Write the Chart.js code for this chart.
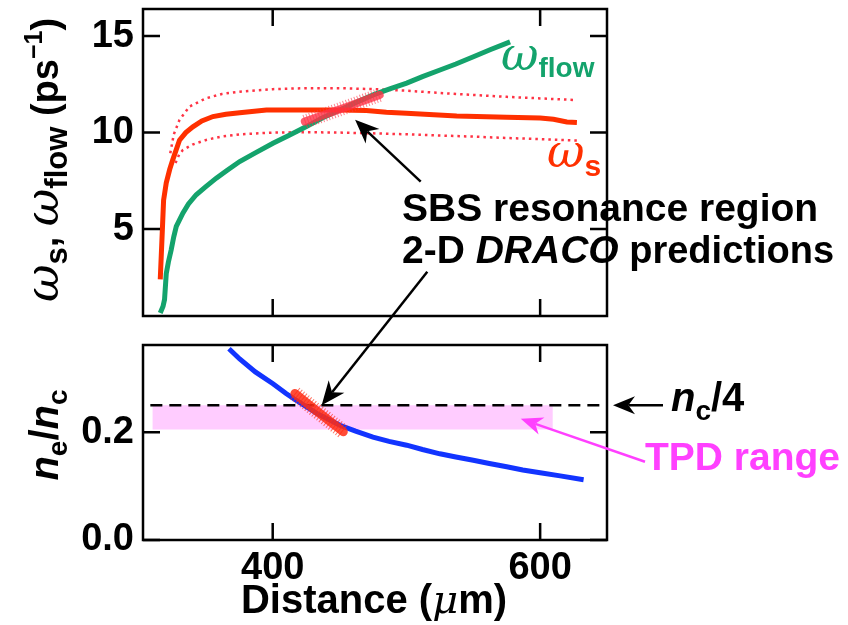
<!DOCTYPE html>
<html>
<head>
<meta charset="utf-8">
<script src="https://cdn.jsdelivr.net/npm/chart.js@4.4.0/dist/chart.umd.min.js"></script>
<style>
body { margin: 0; background: #fff; }
#wrap { position: relative; width: 848px; height: 625px; }
canvas { position: absolute; left: 0; }
</style>
</head>
<body>
<div id="wrap">
  <canvas id="topChart" width="848" height="330" style="top:0"></canvas>
  <canvas id="botChart" width="848" height="295" style="top:330px"></canvas>
  <canvas id="over" width="848" height="625" style="top:0;pointer-events:none"></canvas>
</div>
<script>
// axes
const X_TICKS = [400, 600];
const TOP_TICKS = [5, 10, 15];
const BOT_TICKS = [0, 0.2];

// omega_s (solid red)
const DIST_WS = [315.9, 317.5, 318.4, 320.4, 323, 325.3, 330.3, 335, 340.3, 347, 355.3, 365, 375.3, 395.3, 425, 450, 470, 485, 500, 537.6, 575, 600, 610, 620, 627.5];
const OMEGA_S = [2.4, 5.0, 6.5, 7.4, 8.1, 8.6, 9.6, 10.0, 10.3, 10.6, 10.83, 10.95, 11.03, 11.17, 11.17, 11.17, 11.14, 11.05, 11.0, 10.86, 10.8, 10.75, 10.69, 10.55, 10.52];

// omega_s upper / lower bounds (dotted red)
const DIST_UP = [323.4, 326, 330.3, 337.8, 350.3, 362, 375.3, 400.2, 425, 450.2, 475, 500.2, 525, 550.1, 575, 600, 625];
const OMEGA_UP = [8.93, 9.9, 10.66, 11.35, 11.78, 12.0, 12.12, 12.25, 12.3, 12.3, 12.25, 12.17, 12.05, 11.95, 11.85, 11.77, 11.69];
const DIST_LO = [327.3, 330, 332.8, 340, 350.3, 362, 375.3, 400.2, 425, 450.2, 475, 500.2, 525, 550.1, 575, 600, 627.5];
const OMEGA_LO = [8.42, 8.85, 9.1, 9.38, 9.62, 9.8, 9.91, 10.0, 10.02, 10.0, 9.96, 9.91, 9.85, 9.79, 9.72, 9.66, 9.59];

// omega_flow (green)
const DIST_FLOW = [315.9, 318, 319.1, 320.4, 322, 324.1, 326, 327.9, 332.8, 337, 342.8, 350, 357.8, 366, 375.3, 387, 400.2, 412, 425.2, 437, 450.2, 462, 475.2, 487, 500.2, 512, 525.1, 537, 550.1, 563, 577.5];
const OMEGA_FLOW = [0.66, 1.0, 1.35, 2.7, 3.3, 3.93, 4.6, 5.14, 5.83, 6.3, 6.78, 7.2, 7.64, 8.05, 8.5, 8.95, 9.45, 9.85, 10.31, 10.75, 11.17, 11.55, 11.95, 12.25, 12.56, 12.9, 13.24, 13.55, 13.93, 14.3, 14.7];

// SBS resonance region (DRACO)
const DIST_RES_TOP = [424, 452, 480];
const OMEGA_RES = [10.57, 11.25, 11.95];
const DIST_RES_BOT = [416.6, 434.7, 452.8];
const NE_RES = [0.272, 0.236, 0.201];

// n_e/n_c (blue)
const DIST_NE = [367.3, 375.3, 387, 400.2, 410, 417.7, 433, 450.2, 462, 475, 487, 500.2, 512, 525, 537, 550, 562, 575, 587, 600, 615, 632.5];
const NE_NC = [0.355, 0.336, 0.312, 0.29, 0.272, 0.259, 0.235, 0.213, 0.202, 0.191, 0.183, 0.176, 0.168, 0.160, 0.154, 0.148, 0.142, 0.136, 0.130, 0.125, 0.119, 0.112];

// n_c/4 and TPD range
const DIST_QUARTER = [308.5, 650];
const QUARTER = [0.25, 0.25];
const DIST_TPD = [310, 609.5];
const TPD_RANGE = [0.205, 0.25];

const GREEN = '#14a36c';
const RED = '#ff3000';
const BLUE = '#1234ff';
const MAGENTA = '#ff40ff';
const TICK = 17;

const B = s => `bold ${s}px "Liberation Sans", Arial, sans-serif`;
const BI = s => `italic bold ${s}px "Liberation Sans", Arial, sans-serif`;
const W = s => `italic ${s}px "DejaVu Serif", "Liberation Serif", serif`;

const zip = (xs, ys) => xs.map((x, i) => ({ x: x, y: ys[i] }));

function line(xs, ys, color, width, extra) {
    return Object.assign({
        type: 'line',
        data: zip(xs, ys),
        borderColor: color,
        borderWidth: width,
        pointRadius: 0,
        fill: false,
        tension: 0
    }, extra || {});
}

// frame with inward ticks on all four sides
const framePlugin = {
    id: 'frame',
    afterDatasetsDraw(chart, args, opts) {
        const { ctx, chartArea: a, scales } = chart;
        ctx.save();
        ctx.strokeStyle = '#000';
        ctx.lineWidth = 2.5;
        ctx.strokeRect(a.left, a.top, a.right - a.left, a.bottom - a.top);
        ctx.beginPath();
        X_TICKS.forEach(v => {
            const px = scales.x.getPixelForValue(v);
            ctx.moveTo(px, a.top); ctx.lineTo(px, a.top + TICK);
            ctx.moveTo(px, a.bottom); ctx.lineTo(px, a.bottom - TICK);
        });
        opts.yTicks.forEach(v => {
            const py = scales.y.getPixelForValue(v);
            ctx.moveTo(a.left, py); ctx.lineTo(a.left + TICK, py);
            ctx.moveTo(a.right, py); ctx.lineTo(a.right - TICK, py);
        });
        ctx.stroke();
        ctx.restore();
    }
};

const tickFont = { family: '"Liberation Sans", Arial, sans-serif', weight: 'bold', size: 38 };

function panel(id, datasets, yMin, yMax, yTicks, fmt, padding, showX) {
    return new Chart(document.getElementById(id), {
        data: { datasets: datasets },
        options: {
            responsive: false,
            animation: false,
            layout: { padding: padding },
            plugins: { legend: { display: false }, tooltip: { enabled: false }, frame: { yTicks: yTicks } },
            scales: {
                x: {
                    type: 'linear', min: 303, max: 650,
                    display: showX,
                    afterBuildTicks: s => { s.ticks = X_TICKS.map(v => ({ value: v })); },
                    afterFit: s => { s.height = showX ? 85 : 0; s.paddingLeft = 0; s.paddingRight = 0; },
                    grid: { display: false, drawTicks: false },
                    border: { display: false },
                    ticks: { color: '#000', font: tickFont, padding: 6, maxRotation: 0 }
                },
                y: {
                    type: 'linear', min: yMin, max: yMax,
                    afterBuildTicks: s => { s.ticks = yTicks.map(v => ({ value: v })); },
                    afterFit: s => { s.width = 143; s.paddingTop = 0; s.paddingBottom = 0; },
                    grid: { display: false, drawTicks: false },
                    border: { display: false },
                    ticks: { color: '#000', font: tickFont, padding: 9, callback: fmt }
                }
            }
        },
        plugins: [framePlugin]
    });
}

const topChart = panel('topChart', [
    line(DIST_RES_TOP, OMEGA_RES, 'rgba(255,50,70,0.8)', 8, { order: 0, borderCapStyle: 'round' }),
    line(DIST_RES_TOP, OMEGA_RES, 'rgba(255,50,70,0.6)', 14, { order: 0, borderDash: [1, 2] }),
    line(DIST_WS, OMEGA_S, RED, 5, { order: 1 }),
    line(DIST_FLOW, OMEGA_FLOW, GREEN, 5, { order: 2 }),
    line(DIST_UP, OMEGA_UP, '#ff3344', 2.5, { order: 3, borderDash: [2.5, 4] }),
    line(DIST_LO, OMEGA_LO, '#ff3344', 2.5, { order: 3, borderDash: [2.5, 4] })
], 0.5, 16.4, TOP_TICKS, v => String(v), { left: 0, right: 241, top: 9, bottom: 14 }, false);

const botChart = panel('botChart', [
    line(DIST_RES_BOT, NE_RES, 'rgba(255,45,20,0.85)', 9, { order: 0, borderCapStyle: 'round' }),
    line(DIST_RES_BOT, NE_RES, 'rgba(255,45,20,0.65)', 15, { order: 0, borderDash: [1, 2] }),
    line(DIST_NE, NE_NC, BLUE, 5, { order: 1 }),
    line(DIST_QUARTER, QUARTER, '#000', 2.5, { order: 2, borderDash: [12, 7] }),
    line(DIST_TPD, [TPD_RANGE[1], TPD_RANGE[1]], 'transparent', 1, {
        order: 5, fill: { value: TPD_RANGE[0] }, backgroundColor: '#ffccff'
    })
], 0, 0.362, BOT_TICKS, v => v.toFixed(1), { left: 0, right: 241, top: 15, bottom: 0 }, true);

// mixed-font text runs (subscripts, italics), optionally rotated
function drawRuns(ctx, x, y, angle, runs, align) {
    ctx.save();
    ctx.translate(x, y);
    ctx.rotate(angle);
    let w = 0;
    runs.forEach(r => { ctx.font = r.f; r.w = ctx.measureText(r.t).width; w += r.w; });
    let cx = align === 'center' ? -w / 2 : 0;
    ctx.textAlign = 'left';
    ctx.textBaseline = 'alphabetic';
    runs.forEach(r => {
        ctx.font = r.f;
        ctx.fillStyle = r.c || '#000';
        ctx.fillText(r.t, cx, r.dy || 0);
        cx += r.w;
    });
    ctx.restore();
}

function arrow(ctx, x1, y1, x2, y2, color, lw, len, half) {
    const ang = Math.atan2(y2 - y1, x2 - x1);
    const c = Math.cos(ang), s = Math.sin(ang);
    ctx.save();
    ctx.strokeStyle = color;
    ctx.fillStyle = color;
    ctx.lineWidth = lw;
    ctx.beginPath();
    ctx.moveTo(x1, y1);
    ctx.lineTo(x2 - c * len * 0.7, y2 - s * len * 0.7);
    ctx.stroke();
    ctx.beginPath();
    ctx.moveTo(x2, y2);
    ctx.lineTo(x2 - c * len - s * half, y2 - s * len + c * half);
    ctx.lineTo(x2 - c * len * 0.7, y2 - s * len * 0.7);
    ctx.lineTo(x2 - c * len + s * half, y2 - s * len - c * half);
    ctx.closePath();
    ctx.fill();
    ctx.restore();
}

function drawOverlay() {
    const ctx = document.getElementById('over').getContext('2d');
    const tx = topChart.scales.x, ty = topChart.scales.y;
    const bx = botChart.scales.x, by = botChart.scales.y;
    const OFF = 330;

    // axis titles
    drawRuns(ctx, 58, 160, -Math.PI / 2, [
        { t: 'ω', f: W(46) }, { t: 's', f: B(31), dy: 9 }, { t: ', ', f: B(38) },
        { t: 'ω', f: W(46) }, { t: 'flow', f: B(31), dy: 9 },
        { t: ' (ps', f: B(38) }, { t: '−1', f: B(25), dy: -16 }, { t: ')', f: B(38) }
    ], 'center');
    drawRuns(ctx, 58, 435, -Math.PI / 2, [
        { t: 'n', f: BI(40) }, { t: 'e', f: B(28), dy: 9 }, { t: '/', f: B(40) },
        { t: 'n', f: BI(40) }, { t: 'c', f: B(28), dy: 9 }
    ], 'center');
    drawRuns(ctx, 374, 613, 0, [
        { t: 'Distance (', f: B(40) }, { t: 'μ', f: W(40) }, { t: 'm)', f: B(40) }
    ], 'center');

    // curve labels
    drawRuns(ctx, 501, 70, 0, [{ t: 'ω', f: W(46), c: GREEN }, { t: 'flow', f: B(28), dy: 7, c: GREEN }]);
    drawRuns(ctx, 547, 167, 0, [{ t: 'ω', f: W(46), c: RED }, { t: 's', f: B(30), dy: 9, c: RED }]);

    // SBS annotation
    drawRuns(ctx, 402, 221, 0, [{ t: 'SBS resonance region', f: B(39) }]);
    drawRuns(ctx, 402, 263, 0, [
        { t: '2-D ', f: B(39) }, { t: 'DRACO', f: BI(39) }, { t: ' predictions', f: B(38) }
    ]);
    arrow(ctx, 420.7, 181.7, tx.getPixelForValue(461.6), ty.getPixelForValue(10.66), '#000', 2.5, 24, 10);
    arrow(ctx, 427.3, 271.7, bx.getPixelForValue(436.6), by.getPixelForValue(0.25) + OFF, '#000', 2.5, 24, 10);

    // n_c/4
    const qy = by.getPixelForValue(QUARTER[0]) + OFF;
    arrow(ctx, 663, qy, 613, qy, '#000', 2.5, 22, 9);
    drawRuns(ctx, 671, 411, 0, [
        { t: 'n', f: BI(40) }, { t: 'c', f: B(28), dy: 9 }, { t: '/4', f: B(40) }
    ]);

    // TPD range
    arrow(ctx, 645, 461.7, bx.getPixelForValue(585.5), by.getPixelForValue(0.225) + OFF, MAGENTA, 2.5, 22, 9);
    drawRuns(ctx, 645, 470, 0, [{ t: 'TPD range', f: B(39), c: MAGENTA }]);
}

drawOverlay();
</script>
</body>
</html>
